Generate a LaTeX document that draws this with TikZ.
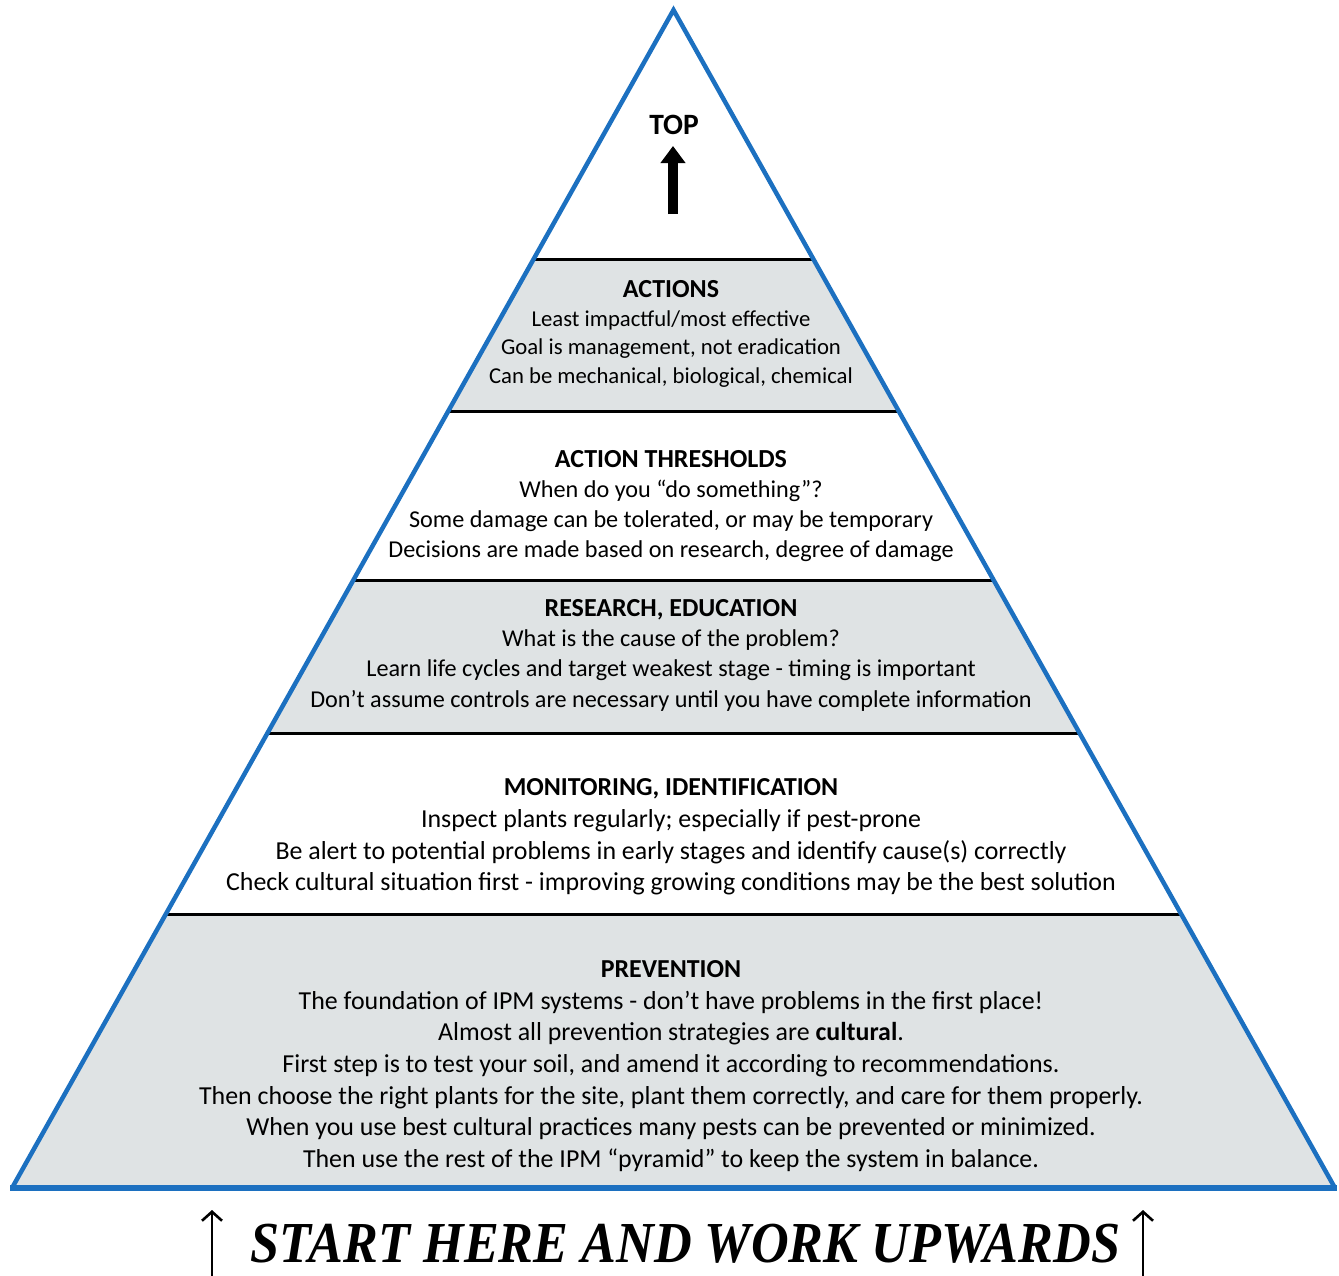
\documentclass[tikz,border=0pt]{standalone}
\usepackage{fontspec}
\setmainfont{Carlito}
\newfontfamily\startfont{Liberation Serif}
\usetikzlibrary{arrows.meta}

\definecolor{pyrblue}{RGB}{28,112,192}
\definecolor{bandgray}{RGB}{223,227,228}

\begin{document}
\begin{tikzpicture}[x=1pt, y=-1pt,
  band/.style={align=center, inner sep=0pt},
  divider/.style={black, line width=3pt},
  edgeline/.style={pyrblue, line width=4.5pt},
  toparrow/.style={line width=10pt, -{Triangle[width=24pt, length=17pt]}},
  uparrow/.style={line width=2.6pt, -{Straight Barb[width=20pt, length=9pt]}}]

\useasboundingbox (0,0) rectangle (1339,1275);

\coordinate (apex) at (673.5, 10);
\coordinate (bl) at (12, 1188);
\coordinate (br) at (1335, 1188);

\coordinate (l1) at (533.7, 259);
\coordinate (r1) at (813.3, 259);
\coordinate (l2) at (448.3, 411);
\coordinate (r2) at (898.7, 411);
\coordinate (l3) at (353.4, 580);
\coordinate (r3) at (993.6, 580);
\coordinate (l4) at (267.5, 733);
\coordinate (r4) at (1079.5, 733);
\coordinate (l5) at (165.9, 914);
\coordinate (r5) at (1181.1, 914);

% grey bands
\fill[bandgray] (l1) -- (r1) -- (r2) -- (l2) -- cycle;
\fill[bandgray] (l3) -- (r3) -- (r4) -- (l4) -- cycle;
\fill[bandgray] (l5) -- (r5) -- (br) -- (bl) -- cycle;

% dividers
\draw[divider] (l1) -- (r1);
\draw[divider] (l2) -- (r2);
\draw[divider] (l3) -- (r3);
\draw[divider] (l4) -- (r4);
\draw[divider] (l5) -- (r5);

% outline
\draw[edgeline] (bl) -- (apex) -- (br);
\draw[pyrblue, line width=6.5pt] ([xshift=-2pt]bl) -- ([xshift=2pt]br);

\node (top) at (674, 125) [font=\bfseries\fontsize{29.5}{32}\selectfont] {TOP};
\coordinate (ta0) at (673, 214);
\coordinate (ta1) at (673, 146);
\draw[toparrow] (ta0) -- (ta1);

\node (actions) at (671, 334) [band, font=\fontsize{22.7}{28.7}\selectfont]
  {{\bfseries\fontsize{26}{28.7}\selectfont ACTIONS}\\
   Least impactful/most effective\\
   Goal is management, not eradication\\
   Can be mechanical, biological, chemical};

\node (thresholds) at (671, 506) [band, font=\fontsize{24.2}{30}\selectfont]
  {{\bfseries\fontsize{26}{30}\selectfont ACTION THRESHOLDS}\\
   When do you “do something”?\\
   Some damage can be tolerated, or may be temporary\\
   Decisions are made based on research, degree of damage};

\node (research) at (671, 655) [band, font=\fontsize{24.2}{30.3}\selectfont]
  {{\bfseries\fontsize{26}{30.3}\selectfont RESEARCH, EDUCATION}\\
   What is the cause of the problem?\\
   Learn life cycles and target weakest stage - timing is important\\
   Don’t assume controls are necessary until you have complete information};

\node (monitoring) at (671, 837) [band, font=\fontsize{25.9}{31.7}\selectfont]
  {{\bfseries MONITORING, IDENTIFICATION}\\
   Inspect plants regularly; especially if pest-prone\\
   Be alert to potential problems in early stages and identify cause(s) correctly\\
   Check cultural situation first - improving growing conditions may be the best solution};

\node (prevention) at (671, 1066) [band, font=\fontsize{25.9}{31.7}\selectfont]
  {{\bfseries PREVENTION}\\
   The foundation of IPM systems - don’t have problems in the first place!\\
   Almost all prevention strategies are \textbf{cultural}.\\
   First step is to test your soil, and amend it according to recommendations.\\
   Then choose the right plants for the site, plant them correctly, and care for them properly.\\
   When you use best cultural practices many pests can be prevented or minimized.\\
   Then use the rest of the IPM “pyramid” to keep the system in balance.};

\node (start) at (685.5, 1262) [anchor=base, inner sep=0pt,
  font=\startfont\bfseries\itshape\fontsize{58}{58}\selectfont]
  {\scalebox{0.9}[1]{START HERE AND WORK UPWARDS}};

\coordinate (la0) at (212, 1278);
\coordinate (la1) at (212, 1210);
\coordinate (ra0) at (1143, 1278);
\coordinate (ra1) at (1143, 1210);
\draw[uparrow] (la0) -- (la1);
\draw[uparrow] (ra0) -- (ra1);

\end{tikzpicture}
\end{document}
